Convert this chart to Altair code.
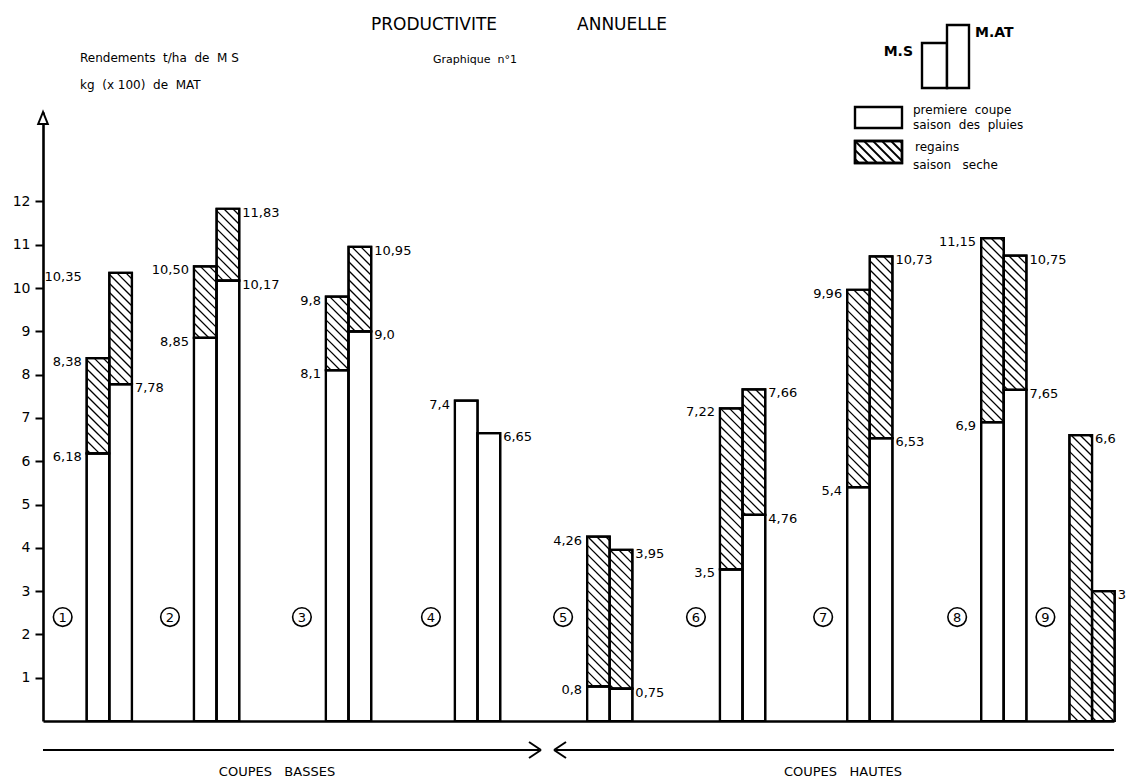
import math
import altair as alt
import pandas as pd

# ---------------- data ----------------
groups = ["1", "2", "3", "4", "5", "6", "7", "8", "9"]
# place of each pair of bars along the horizontal axis (left edge of the M.S bar, in bar widths)
group_slot = [1.93, 6.67, 12.5, 18.2, 24.04, 29.91, 35.53, 41.45, 45.35]
ms_first = [6.18, 8.85, 8.1, 7.4, 0.8, 3.5, 5.4, 6.9, 0.0]
ms_total = [8.38, 10.50, 9.8, 7.4, 4.26, 7.22, 9.96, 11.15, 6.6]
mat_first = [7.78, 10.17, 9.0, 6.65, 0.75, 4.76, 6.53, 7.65, 0.0]
mat_total = [10.35, 11.83, 10.95, 6.65, 3.95, 7.66, 10.73, 10.75, 3.0]
ms_first_txt = ["6,18", "8,85", "8,1", "", "0,8", "3,5", "5,4", "6,9", ""]
ms_total_txt = ["8,38", "10,50", "9,8", "7,4", "4,26", "7,22", "9,96", "11,15", "6,6"]
mat_first_txt = ["7,78", "10,17", "9,0", "", "0,75", "4,76", "6,53", "7,65", ""]
mat_total_txt = ["10,35", "11,83", "10,95", "6,65", "3,95", "7,66", "10,73", "10,75", "3"]
ms_total_side = ["left"] * 8 + ["right"]
mat_total_side = ["left"] + ["right"] * 8
y_ticks = list(range(1, 13))

# ---------------- layout ----------------
W, H = 1071, 609
XMAX = 47.32       # horizontal extent, in bar widths
BW = W / XMAX      # px per x unit (one bar width)
PY = 43.3          # px per y unit
YMAX = H / PY
HATCH = 9.0        # hatch spacing, px
circle_level = 2.4
FONT = "DejaVu Sans"

xs = alt.Scale(domain=[0, XMAX], nice=False, zero=False)
ys = alt.Scale(domain=[0, YMAX], nice=False, zero=False)

# bar segments
seg_rows = []
for i, g in enumerate(groups):
    for k, (first, total) in enumerate([(ms_first[i], ms_total[i]), (mat_first[i], mat_total[i])]):
        x0 = group_slot[i] + k
        x1 = x0 + 1
        if first > 0:
            seg_rows.append(dict(x0=x0, x1=x1, y0=0.0, y1=first, kind="first"))
        if total > first:
            seg_rows.append(dict(x0=x0, x1=x1, y0=first, y1=total, kind="regain"))
seg_df = pd.DataFrame(seg_rows)

# hatch lines for the "regains" segments (45 degrees on screen)
hatch_rows = []
for r in seg_rows:
    if r["kind"] != "regain":
        continue
    u0, u1 = r["x0"] * BW, r["x1"] * BW
    v0, v1 = r["y0"] * PY, r["y1"] * PY
    for n in range(math.ceil((u0 + v0) / HATCH), math.floor((u1 + v1) / HATCH) + 1):
        c = n * HATCH
        ua = max(u0, c - v1)
        ub = min(u1, c - v0)
        if ub - ua > 0.8:
            hatch_rows.append(dict(xa=ua / BW, ya=(c - ua) / PY, xb=ub / BW, yb=(c - ub) / PY))
hatch_df = pd.DataFrame(hatch_rows)

# value labels
lab_rows = []
for i in range(len(groups)):
    s = group_slot[i]
    if ms_total_side[i] == "left":
        lab_rows.append(dict(x=s, y=ms_total[i], t=ms_total_txt[i], side="left"))
    else:
        lab_rows.append(dict(x=s + 1, y=ms_total[i], t=ms_total_txt[i], side="right"))
    if ms_first_txt[i]:
        lab_rows.append(dict(x=s, y=ms_first[i], t=ms_first_txt[i], side="left"))
    if mat_total_side[i] == "left":
        lab_rows.append(dict(x=s, y=mat_total[i], t=mat_total_txt[i], side="left"))
    else:
        lab_rows.append(dict(x=s + 2, y=mat_total[i], t=mat_total_txt[i], side="right"))
    if mat_first_txt[i]:
        lab_rows.append(dict(x=s + 2, y=mat_first[i], t=mat_first_txt[i], side="right"))
lab_df = pd.DataFrame(lab_rows)

circ_df = pd.DataFrame({"g": groups, "x": group_slot, "y": [circle_level] * len(groups)})

# ---------------- layers ----------------
bars_fill = alt.Chart(seg_df).mark_rect(fill="white", stroke="black", strokeWidth=2.2).encode(
    x=alt.X("x0:Q", scale=xs, axis=alt.Axis(labels=False, ticks=False, grid=False, title=None,
                                            domainColor="black", domainWidth=2.6)),
    x2="x1:Q",
    y=alt.Y("y0:Q", scale=ys, axis=alt.Axis(values=y_ticks, grid=False, title=None,
                                            domainColor="black", domainWidth=2.6,
                                            tickColor="black", tickWidth=2, tickSize=8,
                                            labelFont=FONT, labelFontSize=14, labelColor="black",
                                            labelPadding=5)),
    y2="y1:Q",
)

hatch = alt.Chart(hatch_df).mark_rule(color="black", strokeWidth=1.3).encode(
    x=alt.X("xa:Q", scale=xs), x2="xb:Q",
    y=alt.Y("ya:Q", scale=ys), y2="yb:Q",
)

bars_outline = alt.Chart(seg_df).mark_rect(fill="white", fillOpacity=0, stroke="black", strokeWidth=2.2).encode(
    x=alt.X("x0:Q", scale=xs), x2="x1:Q",
    y=alt.Y("y0:Q", scale=ys), y2="y1:Q",
)

lab_left = alt.Chart(lab_df[lab_df.side == "left"]).mark_text(
    align="right", baseline="middle", dx=-5, dy=4, font=FONT, fontSize=13, color="black"
).encode(x=alt.X("x:Q", scale=xs), y=alt.Y("y:Q", scale=ys), text="t:N")

lab_right = alt.Chart(lab_df[lab_df.side == "right"]).mark_text(
    align="left", baseline="middle", dx=3, dy=4, font=FONT, fontSize=13, color="black"
).encode(x=alt.X("x:Q", scale=xs), y=alt.Y("y:Q", scale=ys), text="t:N")

circles = alt.Chart(circ_df).mark_point(
    shape="circle", size=346, filled=False, stroke="black", strokeWidth=1.6, opacity=1, xOffset=-24
).encode(x=alt.X("x:Q", scale=xs), y=alt.Y("y:Q", scale=ys))

circ_txt = alt.Chart(circ_df).mark_text(
    align="center", baseline="middle", dx=-24, dy=1, font=FONT, fontSize=13, color="black"
).encode(x=alt.X("x:Q", scale=xs), y=alt.Y("y:Q", scale=ys), text="g:N")

# ---------------- decorations (pixel positions in the plot frame) ----------------
deco_lines = pd.DataFrame([
    dict(a=0, b=638, c=496, d=638),
    dict(a=486, b=630, c=498, d=638),
    dict(a=498, b=638, c=486, d=646),
    dict(a=513, b=638, c=W, d=638),
    dict(a=523, b=630, c=511, d=638),
    dict(a=511, b=638, c=523, d=646),
])
arrows = alt.Chart(deco_lines).mark_rule(color="black", strokeWidth=2).encode(
    x=alt.X("a:Q", scale=None), y=alt.Y("b:Q", scale=None),
    x2="c:Q", y2="d:Q",
)

tri = alt.Chart(pd.DataFrame({"a": [0], "b": [6]})).mark_point(
    shape="M0,-1L-0.8,1L0.8,1Z", size=144, filled=True, fill="white", stroke="black",
    strokeWidth=2, opacity=1
).encode(x=alt.X("a:Q", scale=None), y=alt.Y("b:Q", scale=None))

leg_rects = pd.DataFrame([
    dict(a=879, b=-69, c=904, d=-24),
    dict(a=904, b=-87, c=926, d=-24),
    dict(a=812, b=-5, c=859, d=16),
    dict(a=812, b=29, c=859, d=51),
])
leg_box = alt.Chart(leg_rects).mark_rect(fill="white", stroke="black", strokeWidth=2.4).encode(
    x=alt.X("a:Q", scale=None), y=alt.Y("b:Q", scale=None), x2="c:Q", y2="d:Q",
)
lx0, lx1, ly0, ly1 = 812, 859, 29, 51
lh_rows = []
for dd in range(int(lx0 - ly1) // 9 * 9, int(lx1 - ly0) + 9, 9):
    xa = max(lx0, ly0 + dd)
    xb = min(lx1, ly1 + dd)
    if xb - xa > 0.8:
        lh_rows.append(dict(a=xa, b=xa - dd, c=xb, d=xb - dd))
leg_hatch = alt.Chart(pd.DataFrame(lh_rows)).mark_rule(color="black", strokeWidth=1.8).encode(
    x=alt.X("a:Q", scale=None), y=alt.Y("b:Q", scale=None), x2="c:Q", y2="d:Q",
)
leg_outline = alt.Chart(leg_rects.iloc[[3]]).mark_rect(fill="white", fillOpacity=0, stroke="black", strokeWidth=2.4).encode(
    x=alt.X("a:Q", scale=None), y=alt.Y("b:Q", scale=None), x2="c:Q", y2="d:Q",
)

NB = "\u00a0"


def note(text, x, y, size=12, align="left", weight="normal"):
    return alt.Chart(pd.DataFrame({"t": [text]})).mark_text(
        align=align, baseline="middle", font=FONT, fontSize=size, fontWeight=weight, color="black"
    ).encode(x=alt.value(x), y=alt.value(y), text="t:N")


notes = [
    note("PRODUCTIVITE", 391, -87, 17, "center"),
    note("ANNUELLE", 579, -87, 17, "center"),
    note("Rendements" + NB * 2 + "t/ha" + NB * 2 + "de" + NB * 2 + "M" + NB + "S", 37, -54, 12),
    note("kg" + NB * 2 + "(x" + NB + "100)" + NB * 2 + "de" + NB * 2 + "MAT", 37, -27, 12),
    note("Graphique" + NB + " n°1", 390, -52, 11),
    note("M.S", 870, -60, 14, "right", "bold"),
    note("M.AT", 932, -79, 14, "left", "bold"),
    note("premiere" + NB * 2 + "coupe", 870, -2, 12),
    note("saison" + NB * 2 + "des" + NB * 2 + "pluies", 870, 13, 12),
    note("regains", 872, 35, 12),
    note("saison" + NB * 3 + "seche", 870, 53, 12),
    note("COUPES" + NB * 3 + "BASSES", 234, 660, 13, "center"),
    note("COUPES" + NB * 3 + "HAUTES", 800, 660, 13, "center"),
]

chart = alt.layer(
    bars_fill, hatch, bars_outline, lab_left, lab_right, circles, circ_txt,
    arrows, tri, leg_box, leg_hatch, leg_outline, *notes
).properties(
    width=W, height=H,
    autosize=alt.AutoSizeParams(type="none"),
    padding={"left": 35, "top": 104, "right": 1118 - 35 - W, "bottom": 60},
    background="white",
).configure_view(strokeWidth=0)

chart.save("out.html", embed_options={"renderer": "svg", "actions": False})
